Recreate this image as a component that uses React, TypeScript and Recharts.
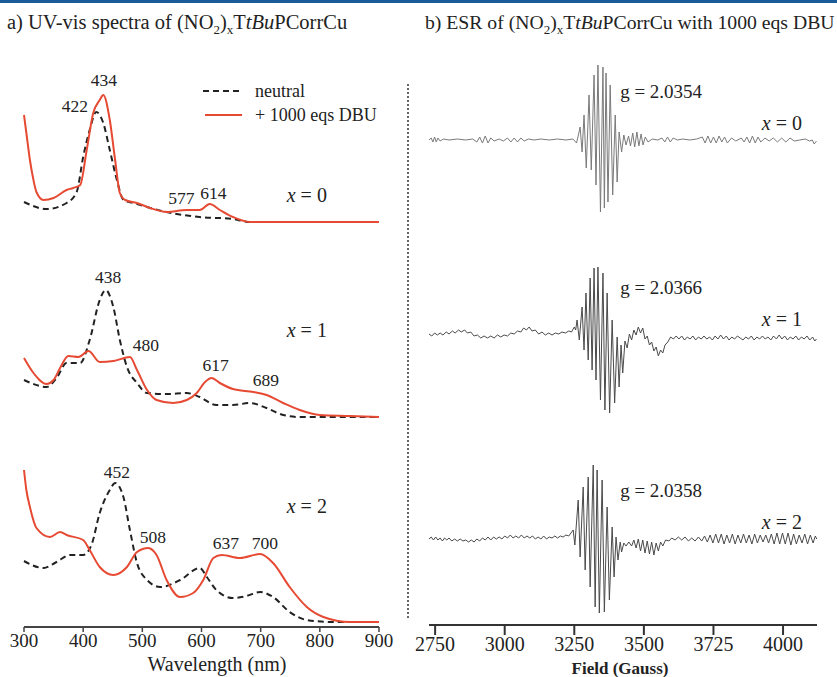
import React from "react";
import { LineChart, Line, XAxis, YAxis, ReferenceDot, Legend } from "recharts";

const SERIF = '"Liberation Serif", "Times New Roman", serif';
const RED = "#e64a33";
const INK = "#222";

// UV-vis, offset absorbance (a.u.): [wavelength nm, value]
const neutral0 = [
  [300, 425], [338, 418], [372, 424], [389, 435], [400, 470], [411, 497], [422, 515],
  [434, 504], [445, 477], [457, 447], [468, 427], [485, 424], [541, 415], [597, 410],
  [653, 408], [682, 405], [900, 405],
];
const dbu0 = [
  [300, 512], [304, 494], [310, 467], [316, 447], [321, 435], [333, 427], [350, 429],
  [372, 437], [383, 439], [395, 442], [406, 477], [417, 514], [428, 527], [434, 532],
  [445, 507], [454, 467], [462, 434], [471, 427], [491, 424], [513, 419], [541, 415],
  [575, 417], [597, 417], [614, 423], [631, 417], [653, 410], [682, 405], [900, 405],
];
const neutral1 = [
  [300, 247], [316, 243], [338, 240], [355, 249], [372, 264], [395, 264], [411, 287],
  [428, 327], [438, 337], [451, 320], [462, 287], [474, 260], [491, 244], [508, 234],
  [541, 233], [575, 234], [597, 230], [625, 222], [653, 222], [682, 224], [710, 219],
  [738, 212], [766, 210], [900, 210],
];
const dbu1 = [
  [300, 269], [316, 254], [338, 243], [350, 247], [361, 259], [375, 271], [392, 270],
  [409, 276], [428, 265], [451, 266], [479, 270], [491, 257], [508, 237], [524, 227],
  [552, 224], [575, 227], [592, 234], [606, 245], [617, 249], [631, 244], [653, 238],
  [688, 235], [710, 232], [738, 224], [766, 217], [800, 212], [851, 211], [900, 210],
];
const neutral2 = [
  [300, 66], [333, 59], [355, 65], [378, 72], [400, 72], [414, 82], [428, 114],
  [445, 137], [454, 144], [468, 130], [479, 97], [491, 64], [508, 47], [530, 40],
  [564, 47], [597, 59], [609, 50], [625, 37], [653, 29], [676, 31], [699, 35],
  [721, 30], [749, 15], [778, 7], [822, 5], [900, 5],
];
const dbu2 = [
  [300, 157], [304, 137], [310, 120], [321, 99], [344, 90], [361, 95], [372, 92],
  [400, 87], [411, 77], [428, 60], [451, 52], [474, 60], [491, 75], [510, 79],
  [524, 72], [541, 47], [564, 30], [586, 34], [603, 47], [620, 69], [634, 72],
  [665, 69], [699, 73], [721, 64], [749, 40], [778, 20], [806, 10], [851, 5], [900, 5],
];
const uvTicks = [300, 400, 500, 600, 700, 800, 900];

// peak labels: [text, wavelength, value]
const uvNotes = [
  ["434", 435, 547], ["422", 386, 521], ["577", 566, 429], ["614", 620, 434],
  ["438", 442, 350], ["480", 506, 282], ["617", 624, 262], ["689", 709, 247],
  ["452", 457, 155], ["508", 518, 90], ["637", 641, 84], ["700", 707, 84],
];
const uvSeriesLabels = [["0", 778, 432], ["1", 778, 297], ["2", 778, 121]];

// ESR signals relative to each trace baseline: [field G, signal a.u.]
const esr0 = [
  [2728, 0], [2736, 2], [2742, -2], [2748, 3], [2754, -2], [2760, 2], [2768, -1], [2780, 1],
  [2800, 0], [2830, 1], [2860, 0], [2885, 1], [2900, -2], [2910, 3], [2920, -3], [2930, 4],
  [2940, -3], [2950, 2], [2962, -1], [2980, 1], [2995, -1], [3010, 2], [3022, -2], [3034, 2],
  [3046, -2], [3058, 2], [3070, -1], [3085, 1], [3105, 0], [3130, 1], [3160, 0], [3190, 1],
  [3220, 0], [3245, 1], [3258, -3], [3264, 4],
  [3271, 13], [3278, -12], [3285, 25], [3293, -28], [3303, 45], [3311, -30], [3321, 65],
  [3328, -45], [3335, 75], [3344, -72], [3353, 73], [3358, -68], [3364, 67], [3371, -62],
  [3379, 55], [3388, -55], [3397, 25], [3404, -42], [3411, 8], [3420, -12], [3428, 5], [3436, -5],
  [3445, 4], [3452, -6], [3460, 7], [3467, -7], [3475, 8], [3482, -6], [3490, 6], [3497, -5],
  [3505, 3], [3515, -2], [3530, 1], [3550, 0], [3565, 2], [3575, -2], [3585, 3], [3595, -2],
  [3605, 2], [3620, 0], [3640, 1], [3665, 0], [3690, 1], [3710, 3], [3720, -3], [3730, 4],
  [3740, -3], [3750, 3], [3760, -3], [3770, 4], [3780, -2], [3790, 3], [3800, -3], [3815, 2],
  [3830, -1], [3850, 2], [3860, -2], [3870, 3], [3880, -3], [3890, 4], [3900, -3], [3910, 3],
  [3920, -2], [3935, 2], [3950, -1], [3965, 2], [3980, -2], [3995, 2], [4010, -2], [4025, 2],
  [4040, -1], [4060, 0], [4080, 1], [4095, -1], [4105, 0], [4112, -4], [4120, -1],
];
const esr1 = [
  [2728, 2], [2738, 0], [2748, 3], [2758, 1], [2768, 3], [2778, 1], [2790, 4], [2800, 2],
  [2812, 5], [2822, 3], [2834, 6], [2844, 4], [2856, 6], [2866, 3], [2878, 4], [2890, 0],
  [2902, 1], [2914, -2], [2926, 0], [2938, -2], [2950, 0], [2962, -2], [2974, 1], [2986, -1],
  [2998, 1], [3010, 0], [3022, 3], [3034, 2], [3046, 5], [3058, 4], [3068, 8], [3078, 6],
  [3088, 9], [3098, 5], [3110, 6], [3122, 2], [3134, 4], [3146, 1], [3158, 3], [3170, 1],
  [3182, 3], [3194, 2], [3206, 4], [3218, 3], [3230, 5], [3240, 4], [3250, 9], [3255, 6],
  [3260, 16], [3268, -4], [3278, 29], [3285, -14], [3292, 43], [3300, -24], [3307, 58],
  [3314, -34], [3321, 68], [3328, -44], [3335, 69], [3344, -64], [3353, 63], [3360, -74],
  [3368, 43], [3377, -77], [3386, 16], [3395, -67], [3404, -1], [3411, -51], [3418, -9], [3424, -37],
  [3432, -5], [3440, -12], [3448, 2], [3456, -4], [3464, 6], [3472, 1], [3480, 9], [3488, 3],
  [3496, 8], [3504, -3], [3512, 0], [3520, -9], [3528, -6], [3536, -15], [3544, -11], [3552, -20],
  [3560, -14], [3568, -17], [3576, -9], [3586, -6], [3596, -1], [3606, -3], [3616, 0],
  [3626, -3], [3636, 0], [3646, -4], [3656, -1], [3666, -3], [3676, 0], [3686, -4], [3696, -1],
  [3706, -3], [3716, 0], [3726, -3], [3736, -1], [3746, -4], [3756, 0], [3766, -3], [3776, 1],
  [3786, -3], [3796, 0], [3806, -4], [3816, -1], [3826, -3], [3836, 0], [3846, -2], [3856, -4],
  [3866, -1], [3876, -3], [3886, 0], [3896, -4], [3906, -1], [3916, -3], [3926, 0], [3936, -3],
  [3946, -1], [3956, -4], [3966, 0], [3976, -3], [3986, 1], [3996, -3], [4006, 0], [4016, -4],
  [4026, -1], [4036, -3], [4046, 0], [4056, -4], [4066, -1], [4076, -3], [4086, 0], [4096, -4],
  [4106, -1], [4114, -5], [4120, -3],
];
const esr2 = [
  [2728, 0], [2736, 2], [2744, -1], [2752, 2], [2760, -1], [2768, 1], [2776, -2], [2784, 1],
  [2792, -1], [2800, 1], [2810, -2], [2820, 0], [2830, -2], [2840, 0], [2850, -2], [2860, -1],
  [2870, -3], [2880, -1], [2890, -3], [2900, 0], [2910, -2], [2920, 1], [2930, -1], [2940, 2],
  [2950, -1], [2960, 2], [2970, 0], [2980, 2], [2990, 0], [3000, 3], [3010, 1], [3020, 4],
  [3030, 1], [3040, 3], [3050, 1], [3060, 4], [3070, 1], [3080, 3], [3090, 1], [3100, 3],
  [3110, 0], [3120, 2], [3130, 0], [3140, 3], [3150, 0], [3160, 2], [3170, 1], [3180, 3],
  [3190, 1], [3200, 3], [3210, 2], [3220, 4], [3230, 3], [3238, 6],
  [3246, 9], [3252, -6], [3264, 39], [3271, -18], [3282, 52], [3289, -31], [3300, 62],
  [3307, -48], [3318, 74], [3325, -68], [3332, 69], [3340, -74], [3350, 59], [3358, -73],
  [3368, 32], [3376, -61], [3386, 12], [3393, -38], [3400, 2], [3407, -21], [3415, -3], [3420, -13],
  [3428, -4], [3436, -7], [3446, -3], [3456, -7], [3464, -1], [3472, -9], [3480, 0], [3488, -12],
  [3496, -1], [3504, -14], [3512, -2], [3520, -15], [3528, -3], [3536, -16], [3544, -4],
  [3552, -12], [3560, -3], [3568, -7], [3578, -1], [3590, -2],
  [3600, 1], [3612, -1], [3624, 2], [3636, -1], [3648, 2], [3660, -2], [3672, 1], [3684, -2],
  [3696, 2], [3708, -2], [3718, 3], [3728, -3], [3738, 4], [3748, -4], [3758, 5], [3768, -4],
  [3778, 5], [3788, -5], [3798, 4], [3808, -4], [3818, 5], [3828, -5], [3838, 4], [3848, -4],
  [3858, 5], [3868, -4], [3878, 4], [3888, -5], [3898, 5], [3908, -4], [3918, 4], [3928, -3],
  [3938, 4], [3948, -4], [3958, 5], [3968, -5], [3978, 6], [3988, -5], [3998, 6], [4008, -5],
  [4018, 6], [4028, -6], [4038, 5], [4048, -5], [4058, 4], [4068, -4], [4078, 5], [4088, -5],
  [4098, 4], [4108, -4], [4116, 3], [4121, 0],
];
const esrBaselines = [485, 289, 86];
const esrTicks = [2750, 3000, 3250, 3500, 3750, 4000];
const esrTickLabels = ["2750", "3000", "3250", "3500", "3725", "4000"];
const gValues = ["2.0354", "2.0366", "2.0358"];

const uv = (arr) => arr.map(([x, y]) => ({ x, y }));
const esr = (arr, base) => arr.map(([x, y]) => ({ x, y: y + base }));

const note = (text, size = 17.5) => (p) => {
  const vb = p.viewBox || {};
  const cx = (vb.x || 0) + (vb.width || 0) / 2;
  const cy = (vb.y || 0) + (vb.height || 0) / 2;
  return (
    <text x={cx} y={cy} textAnchor="middle" dominantBaseline="central" fontFamily={SERIF} fontSize={size} fill={INK}>
      {text}
    </text>
  );
};

const xLabel = (n) => (p) => {
  const vb = p.viewBox || {};
  const cx = (vb.x || 0) + (vb.width || 0) / 2;
  const cy = (vb.y || 0) + (vb.height || 0) / 2;
  return (
    <text x={cx} y={cy} textAnchor="middle" dominantBaseline="central" fontFamily={SERIF} fontSize={20} fill={INK}>
      <tspan fontStyle="italic">x</tspan> = {n}
    </text>
  );
};

const UvLegend = () => (
  <svg width={210} height={50}>
    <line x1={3} x2={42} y1={13} y2={13} stroke={INK} strokeWidth={2} strokeDasharray="6 4" />
    <text x={55} y={13} dominantBaseline="central" fontFamily={SERIF} fontSize={18} fill={INK}>neutral</text>
    <line x1={5} x2={42} y1={37} y2={37} stroke={RED} strokeWidth={2} />
    <text x={55} y={37} dominantBaseline="central" fontFamily={SERIF} fontSize={18} fill={INK}>+ 1000 eqs DBU</text>
  </svg>
);

function UvChart() {
  const pairs = [
    [neutral0, dbu0],
    [neutral1, dbu1],
    [neutral2, dbu2],
  ];
  return (
    <LineChart width={420} height={677} margin={{ top: 60, right: 41, bottom: 20, left: 24 }}>
      <XAxis
        type="number"
        dataKey="x"
        domain={[300, 900]}
        ticks={uvTicks}
        tickSize={5}
        tickMargin={2}
        stroke="#444"
        axisLine={{ stroke: "#444", strokeWidth: 2 }}
        tickLine={{ stroke: "#444", strokeWidth: 1.5 }}
        tick={{ fontSize: 19, fill: INK, fontFamily: SERIF }}
        height={30}
      />
      <YAxis hide domain={[0, 567]} type="number" />
      {pairs.map(([n], i) => (
        <Line key={"n" + i} data={uv(n)} dataKey="y" type="monotone" stroke={INK} strokeWidth={2}
          strokeDasharray="6 4" dot={false} isAnimationActive={false} legendType="none" />
      ))}
      {pairs.map(([, d], i) => (
        <Line key={"d" + i} data={uv(d)} dataKey="y" type="monotone" stroke={RED} strokeWidth={2}
          dot={false} isAnimationActive={false} legendType="none" />
      ))}
      {uvNotes.map(([t, x, y]) => (
        <ReferenceDot key={t} x={x} y={y} r={0} fill="none" stroke="none" ifOverflow="visible" label={note(t)} />
      ))}
      {uvSeriesLabels.map(([n, x, y]) => (
        <ReferenceDot key={"x" + n} x={x} y={y} r={0} fill="none" stroke="none" ifOverflow="visible" label={xLabel(n)} />
      ))}
      <Legend content={UvLegend} layout="horizontal" verticalAlign="middle" align="center"
        wrapperStyle={{ position: "absolute", left: 200, top: 78, width: 210, height: 50 }} />
    </LineChart>
  );
}

function EsrChart() {
  const traces = [esr0, esr1, esr2];
  const colors = ["#7a7a7a", "#4a4a4a", "#4a4a4a"];
  return (
    <LineChart width={427} height={677} margin={{ top: 60, right: 20, bottom: 22, left: 19 }}>
      <XAxis
        type="number"
        dataKey="x"
        domain={[2728, 4122]}
        ticks={esrTicks}
        tickFormatter={(v) => esrTickLabels[esrTicks.indexOf(v)]}
        tickSize={10}
        stroke="#333"
        axisLine={{ stroke: "#333", strokeWidth: 2 }}
        tickLine={{ stroke: "#333", strokeWidth: 2 }}
        tick={{ fontSize: 20, fill: INK, fontFamily: SERIF }}
        height={30}
      />
      <YAxis hide domain={[0, 565]} type="number" />
      {traces.map((t, i) => (
        <Line key={i} data={esr(t, esrBaselines[i])} dataKey="y" type="linear" stroke={colors[i]}
          strokeWidth={1} dot={false} isAnimationActive={false} />
      ))}
      {gValues.map((g, i) => (
        <ReferenceDot key={g} x={3562} y={esrBaselines[i] + 49} r={0} fill="none" stroke="none" ifOverflow="visible"
          label={note("g = " + g, 19)} />
      ))}
      {esrBaselines.map((b, i) => (
        <ReferenceDot key={"x" + i} x={3996} y={b + 17} r={0} fill="none" stroke="none" ifOverflow="visible"
          label={xLabel(String(i))} />
      ))}
    </LineChart>
  );
}

function Sub({ children }) {
  return <tspan dy={5} fontSize={13}>{children}</tspan>;
}

export default function App() {
  return (
    <div style={{ position: "fixed", left: 0, top: 0, width: 837, height: 677, background: "#fff", overflow: "hidden" }}>
      <div style={{ position: "absolute", left: 0, top: 0 }}>
        <UvChart />
      </div>
      <div style={{ position: "absolute", left: 410, top: 0 }}>
        <EsrChart />
      </div>
      <svg width={837} height={677} style={{ position: "absolute", left: 0, top: 0, pointerEvents: "none" }}>
        <rect x={0} y={0} width={837} height={3} fill="#1d5c9a" />
        <text x={7} y={29} fontFamily={SERIF} fontSize={20.5} fill={INK}>
          a) UV-vis spectra of (NO<Sub>2</Sub><tspan dy={-5}>)</tspan><Sub>x</Sub><tspan dy={-5}>T</tspan>
          <tspan fontStyle="italic">tBu</tspan>PCorrCu
        </text>
        <text x={425} y={29} fontFamily={SERIF} fontSize={19.7} fill={INK}>
          b) ESR of (NO<Sub>2</Sub><tspan dy={-5}>)</tspan><Sub>x</Sub><tspan dy={-5}>T</tspan>
          <tspan fontStyle="italic">tBu</tspan>PCorrCu with 1000 eqs DBU
        </text>
        <line x1={408} x2={408} y1={84} y2={620} stroke="#333" strokeWidth={1.5} strokeDasharray="2 2" />
        <text x={217} y={671} textAnchor="middle" fontFamily={SERIF} fontSize={20} fill={INK}>Wavelength (nm)</text>
        <text x={620} y={674} textAnchor="middle" fontFamily={SERIF} fontSize={17} fontWeight="bold" fill={INK}>Field (Gauss)</text>
      </svg>
    </div>
  );
}
